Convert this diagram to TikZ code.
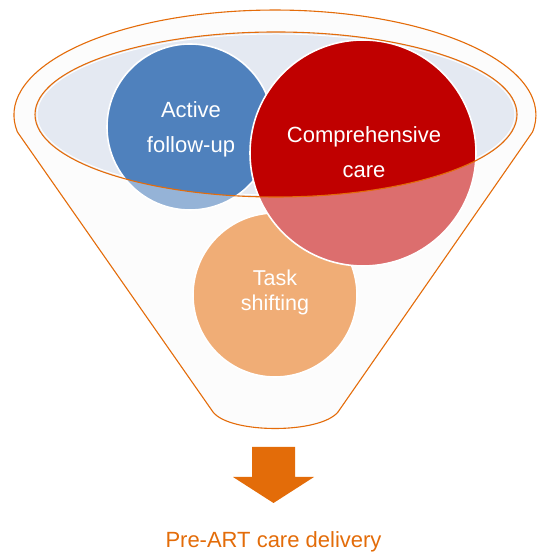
\documentclass[tikz,border=0pt]{standalone}
\usepackage{fontspec}
\setmainfont{Liberation Sans}
\definecolor{funnelline}{HTML}{E46C0A}
\definecolor{arrowor}{HTML}{E36C09}
\definecolor{rimfill}{HTML}{E4E9F2}
\definecolor{funfill}{HTML}{FCFCFC}
\definecolor{bluefull}{HTML}{4F81BD}
\definecolor{bluelight}{HTML}{95B3D7}
\definecolor{redfull}{HTML}{C00000}
\definecolor{redlight}{HTML}{DC6E6E}
\definecolor{orcircle}{HTML}{F0AD76}
\tikzset{
  outline/.style={draw=funnelline, line width=1.1pt},
  circborder/.style={draw=white, line width=1.6pt},
  bubbletext/.style={text=white, align=center, font=\fontsize{22}{35}\selectfont},
}
\begin{document}
\begin{tikzpicture}[x=1pt,y=1pt]
\useasboundingbox (0,0) rectangle (536,553);
% funnel body
\path[fill=funfill, outline] (17.4,421) arc[start angle=189.3, end angle=-9.3, x radius=261, y radius=105]
  -- (338,141) .. controls (320,119) and (230,119) .. (213,141) -- cycle;
% rim
\fill[rimfill] (276,438.5) ellipse[x radius=241, y radius=82.5];
\draw[white, line width=1pt] (276,438.5) ellipse[x radius=239, y radius=80.5];
% task shifting circle
\fill[orcircle] (275,258) circle[radius=82];
\draw[circborder] (275,258) circle[radius=82];
% blue circle
\fill[bluelight] (190,426) circle[radius=83];
\begin{scope}
  \clip (276,438.5) ellipse[x radius=241, y radius=82.5];
  \fill[bluefull] (190,426) circle[radius=83];
\end{scope}
\draw[circborder] (190,426) circle[radius=83];
% red circle
\fill[redlight] (363,400) circle[radius=113];
\begin{scope}
  \clip (276,438.5) ellipse[x radius=241, y radius=82.5];
  \fill[redfull] (363,400) circle[radius=113];
\end{scope}
\draw[circborder] (363,400) circle[radius=113];
% rim outline
\draw[outline] (276,438.5) ellipse[x radius=241, y radius=82.5];
% texts
\node[bubbletext] (active) at (191,423.5) {Active\\follow-up};
\node[bubbletext] (compr) at (364,400.7) {Comprehensive\\care};
\node[bubbletext, font=\fontsize{21.5}{25}\selectfont] (task) at (275,260.1) {Task\\shifting};
% block arrow
\fill[arrowor] (252,106) -- (295,106) -- (295,76) -- (314,76) -- (273.5,50) -- (233,76) -- (252,76) -- cycle;
\node[text=arrowor, font=\fontsize{22}{26}\selectfont, anchor=base, inner sep=0pt] (result) at (273.5,5.5) {Pre-ART care delivery};
\end{tikzpicture}
\end{document}
